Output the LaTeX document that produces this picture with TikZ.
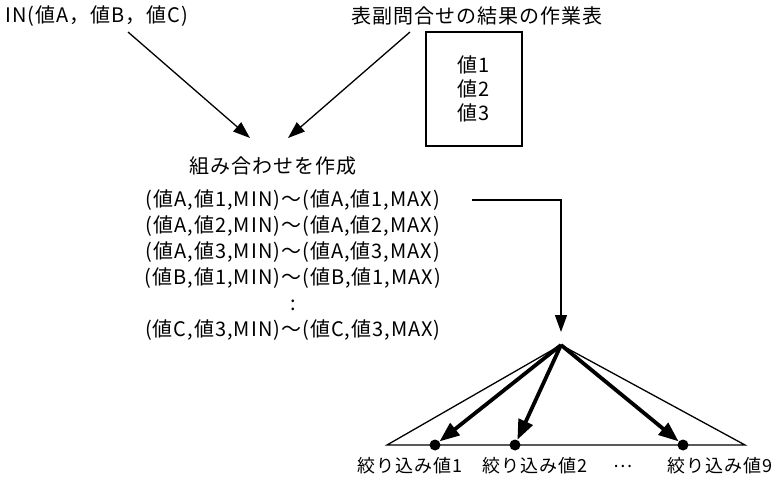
\documentclass[tikz,border=0pt]{standalone}
\usepackage{fontspec}
\setmainfont{Noto Sans CJK JP}[LetterSpace=5]
\usepackage{tikz}
\usetikzlibrary{positioning,calc,arrows.meta}
\definecolor{InkBlack}{HTML}{000000}

\begin{document}
\begin{tikzpicture}[x=1pt, y=-1pt, font=\fontsize{20}{26}\selectfont,
    pointer/.style={draw=InkBlack, line width=1.3pt, -{Triangle[length=17,width=12]}},
    fatpointer/.style={draw=InkBlack, line width=3.8pt, -{Triangle[length=20,width=15]}},
    leafdot/.style={circle, fill=InkBlack, minimum size=11pt, inner sep=0pt},
    leaflabel/.style={inner sep=0pt, font=\fontsize{18}{22}\selectfont}]
  \useasboundingbox (0,0) rectangle (776,486);

  % inputs
  \node[anchor=west, inner sep=0pt] (inlist) at (5,16) {IN(値A，値B，値C)};
  \node[inner sep=0pt] (subq) at (477,16) {表副問合せの結果の作業表};
  \node[draw=InkBlack, line width=1.4pt, minimum width=96pt, minimum height=114pt,
        align=center, font=\fontsize{20}{24}\selectfont] (tbl) at (474,89) {値1\\値2\\値3};

  % combinations
  \node[inner sep=0pt] (make) at (273,166) {組み合わせを作成};
  \node[inner sep=0pt, align=center] (rows) at (293,265) {
    (値A,値1,MIN)～(値A,値1,MAX)\\
    (値A,値2,MIN)～(値A,値2,MAX)\\
    (値A,値3,MIN)～(値A,値3,MAX)\\
    (値B,値1,MIN)～(値B,値1,MAX)\\
    :\\
    (値C,値3,MIN)～(値C,値3,MAX)
  };
  \draw[pointer] ($(inlist.west)+(123,16)$) -- ($(make.center)+(-23,-28)$);
  \draw[pointer] ($(subq.center)+(-67,16)$) -- ($(make.center)+(15,-28)$);

  % index tree
  \coordinate (apex) at (561,345);
  \coordinate (baseL) at (387,445);
  \coordinate (baseR) at (745,445);
  \draw[line width=1.3pt] (baseL) -- (apex) -- (baseR) -- cycle;
  \node[leafdot] (v1) at (435,445) {};
  \node[leafdot] (v2) at (515,445) {};
  \node[leafdot] (v9) at (683,445) {};
  \draw[pointer, shorten >=13pt] ($(rows.east)+(31,-65)$) -| (apex);
  \draw[fatpointer] (apex) -- (v1);
  \draw[fatpointer] (apex) -- (v2);
  \draw[fatpointer] (apex) -- (v9);

  \node[leaflabel] (l1) at (410,466) {絞り込み値1};
  \node[leaflabel] (l2) at (535,466) {絞り込み値2};
  \node[leaflabel] (lmore) at (623,466) {…};
  \node[leaflabel] (l9) at (720,466) {絞り込み値9};
\end{tikzpicture}
\end{document}
